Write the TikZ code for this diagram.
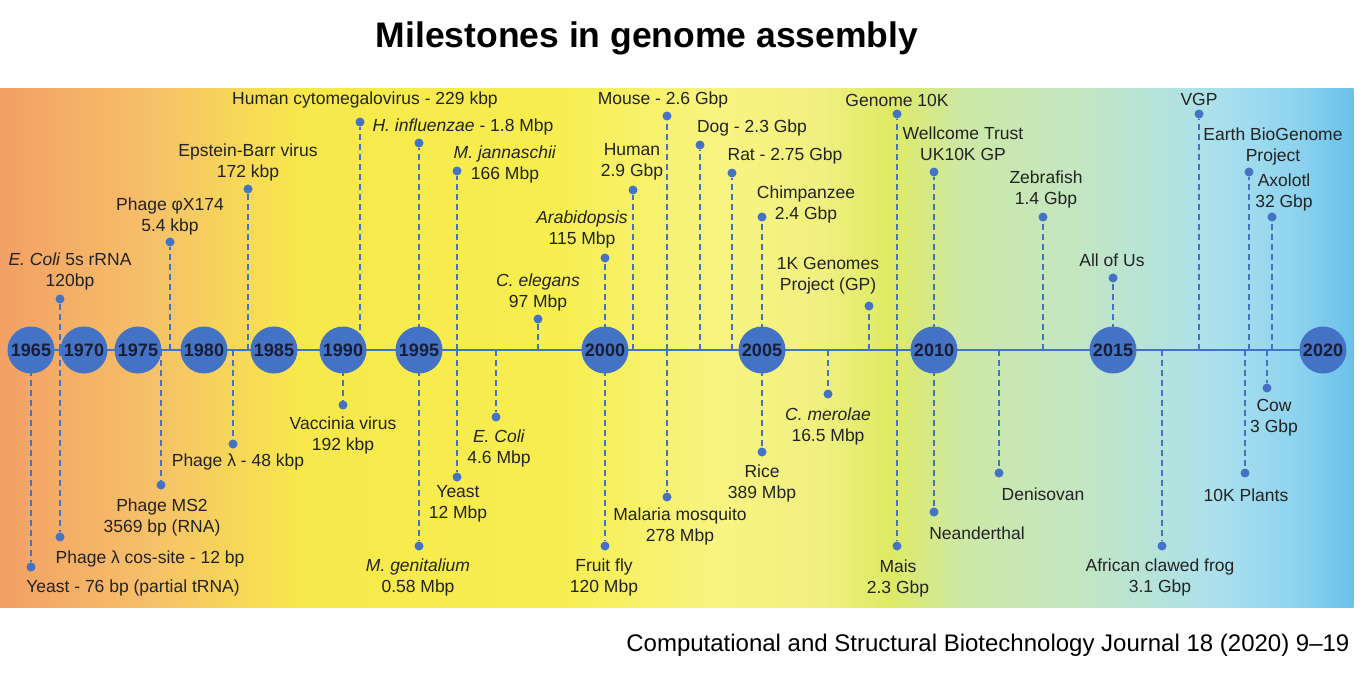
\documentclass[tikz,border=0pt]{standalone}
\usepackage{fontspec}
\setmainfont{Liberation Sans}
\definecolor{TimeBlue}{RGB}{68,114,196}
\definecolor{YearText}{RGB}{25,30,55}
\definecolor{LabelText}{RGB}{35,35,35}
\definecolor{BandA}{RGB}{242,160,100}
\definecolor{BandB}{RGB}{246,192,105}
\definecolor{BandC}{RGB}{247,232,75}
\definecolor{BandD}{RGB}{247,238,80}
\definecolor{BandE}{RGB}{248,244,130}
\definecolor{BandF}{RGB}{240,240,128}
\definecolor{BandG}{RGB}{222,234,100}
\definecolor{BandH}{RGB}{205,232,165}
\definecolor{BandI}{RGB}{195,230,195}
\definecolor{BandJ}{RGB}{170,224,238}
\definecolor{BandK}{RGB}{140,210,238}
\definecolor{BandL}{RGB}{105,192,232}

\begin{document}
\begin{tikzpicture}[x=1pt, y=-1pt,
    year/.style={circle, fill=TimeBlue, minimum size=47pt, inner sep=0pt,
      text=YearText, font=\bfseries\fontsize{18}{18}\selectfont},
    dot/.style={circle, fill=TimeBlue, minimum size=9pt, inner sep=0pt},
    stem/.style={TimeBlue, line width=2pt, dash pattern=on 6pt off 4pt},
    lbl/.style={align=center, inner sep=0pt, text=LabelText,
      font=\fontsize{17.5}{21}\selectfont}]
  \useasboundingbox (0,0) rectangle (1367,677);

  % Background band
  \foreach \xa/\xb/\ca/\cb in {0/150/BandA/BandB, 150/300/BandB/BandC, 300/560/BandC/BandD,
                               560/720/BandD/BandE, 720/820/BandE/BandF, 820/890/BandF/BandG,
                               890/960/BandG/BandH, 960/1080/BandH/BandI, 1080/1220/BandI/BandJ,
                               1220/1300/BandJ/BandK, 1300/1353/BandK/BandL} {
    \shade[left color=\ca, right color=\cb] (\xa-0.5,88) rectangle (\xb+0.5,607);
  }

  % Title and source
  \node[font=\bfseries\fontsize{35.5}{40}\selectfont] (title) at (647,38) {Milestones in genome assembly};
  \node[anchor=east, font=\fontsize{24}{28}\selectfont] (source) at (1353,645)
    {Computational and Structural Biotechnology Journal 18 (2020) 9–19};

  % Axis
  \coordinate (axL) at (31,350);
  \coordinate (axR) at (1323,350);
  \draw[TimeBlue, line width=2.5pt] (axL) -- (axR);

  % Milestones above the axis
  \foreach \n/\x/\y/\lx/\ly/\txt in {
      1/60/299/70/271/{\textit{E. Coli} 5s rRNA\\120bp},
      2/170/242/170/216/{Phage φX174\\5.4 kbp},
      3/248/189/248/162/{Epstein-Barr virus\\172 kbp},
      4/360/122/365/100/{Human cytomegalovirus - 229 kbp},
      5/419/143/463/127/{\textit{H. influenzae} - 1.8 Mbp},
      6/457/171/505/164/{\textit{M. jannaschii}\\166 Mbp},
      7/538/319/538/292/{\textit{C. elegans}\\97 Mbp},
      8/605/258/582/229/{\textit{Arabidopsis}\\115 Mbp},
      9/633/190/632/162/{Human\\2.9 Gbp},
      10/667/116/663/100/{Mouse - 2.6 Gbp},
      11/700/145/752/128/{Dog - 2.3 Gbp},
      12/732/173/785/156/{Rat - 2.75 Gbp},
      13/762/217/806/204/{Chimpanzee\\2.4 Gbp},
      14/869/306/828/276/{1K Genomes\\Project (GP)},
      15/897/114/897/100/{Genome 10K},
      16/934/172/963/144/{Wellcome Trust\\UK10K GP},
      17/1043/217/1046/189/{Zebrafish\\1.4 Gbp},
      18/1113/278/1112/260/{All of Us},
      19/1199/114/1199/99/{VGP},
      20/1249/172/1273/146/{Earth BioGenome\\Project},
      21/1272/217/1284/192/{Axolotl\\32 Gbp}} {
    \coordinate (a\n) at (\x,350);
    \node[dot] (d\n) at (\x,\y) {};
    \draw[stem] (a\n) -- (d\n);
    \node[lbl] (l\n) at (\lx,\ly) {\txt};
  }

  % Milestones below the axis
  \foreach \n/\x/\y/\lx/\ly/\txt in {
      22/31/567/133/588/{Yeast - 76 bp (partial tRNA)},
      23/60/537/150/559/{Phage λ cos-site - 12 bp},
      24/161/485/162/517/{Phage MS2\\3569 bp (RNA)},
      25/233/444/238/462/{Phage λ - 48 kbp},
      26/343/405/343/435/{Vaccinia virus\\192 kbp},
      27/419/546/418/577/{\textit{M. genitalium}\\0.58 Mbp},
      28/457/477/458/504/{Yeast\\12 Mbp},
      29/496/417/499/448/{\textit{E. Coli}\\4.6 Mbp},
      30/605/546/604/577/{Fruit fly\\120 Mbp},
      31/667/497/680/526/{Malaria mosquito\\278 Mbp},
      32/762/452/762/483/{Rice\\389 Mbp},
      33/828/394/828/426/{\textit{C. merolae}\\16.5 Mbp},
      34/897/546/898/578/{Mais\\2.3 Gbp},
      35/934/512/977/533/{Neanderthal},
      36/999/473/1043/494/{Denisovan},
      37/1162/546/1160/577/{African clawed frog\\3.1 Gbp},
      38/1245/473/1246/495/{10K Plants},
      39/1267/388/1274/418/{Cow\\3 Gbp}} {
    \coordinate (a\n) at (\x,350);
    \node[dot] (d\n) at (\x,\y) {};
    \draw[stem] (a\n) -- (d\n);
    \node[lbl] (l\n) at (\lx,\ly) {\txt};
  }

  % Years
  \foreach \yr/\x in {1965/31, 1970/84, 1975/138, 1980/204, 1985/274, 1990/343,
                      1995/419, 2000/605, 2005/762, 2010/934, 2015/1113, 2020/1323} {
    \node[year] (y\yr) at (\x,350) {\yr};
  }
\end{tikzpicture}
\end{document}
